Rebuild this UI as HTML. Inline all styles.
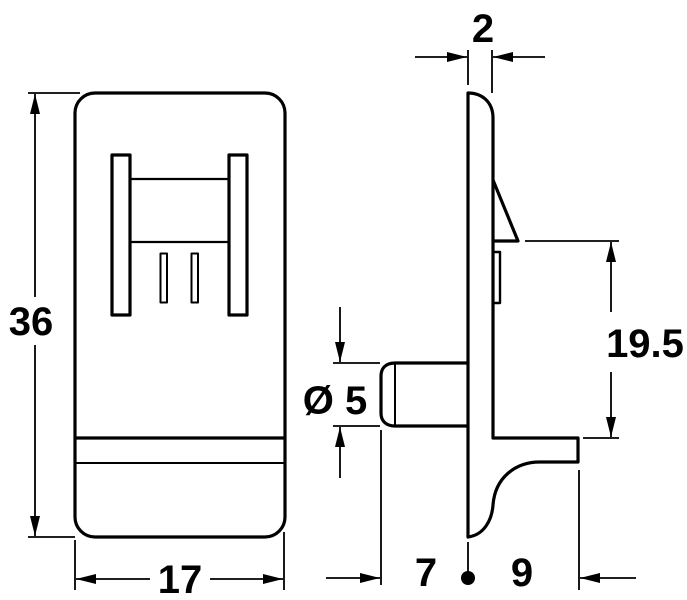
<!DOCTYPE html>
<html><head><meta charset="utf-8"><style>html,body{margin:0;padding:0;background:#fff}svg{display:block}</style></head>
<body>
<svg width="687" height="600" viewBox="0 0 687 600" xmlns="http://www.w3.org/2000/svg">
<defs>
<marker id="a" viewBox="0 0 20 10" refX="20" refY="5" markerWidth="20" markerHeight="10" markerUnits="userSpaceOnUse" orient="auto"><path d="M0,0 L20,5 L0,10 Z" fill="#000"/></marker>
</defs>
<g fill="none" stroke="#000" stroke-width="3.2" stroke-linejoin="round">
<rect x="75" y="93" width="210" height="444" rx="20"/>
<line x1="75" y1="438" x2="284" y2="438"/>
<line x1="75" y1="463" x2="284" y2="463" stroke-width="2"/>
<rect x="112" y="155" width="18" height="160"/>
<rect x="229" y="155" width="18" height="160"/>
<line x1="130" y1="179" x2="229" y2="179" stroke-width="2.2"/>
<line x1="130" y1="242" x2="229" y2="242" stroke-width="2.2"/>
<rect x="160.5" y="253.5" width="6.5" height="49" stroke-width="2"/>
<rect x="191.5" y="253.5" width="6.5" height="49" stroke-width="2"/>
<path d="M468,93 C482,93 493,102 493,118 L493,438 L578,438 L578,462 L540,462 C515,462 495,478 493,505 C492,520 484,535 468,537 Z"/>
<path d="M493,180 L518,241 L493,241"/>
<rect x="493" y="252" width="7" height="51" stroke-width="2.4"/>
<path d="M468,363 L395,363 C386,363 381,368 381,376 L381,413 C381,421 386,426 395,426 L468,426"/>
<line x1="395" y1="363" x2="395" y2="426" stroke-width="2"/>
</g>
<g stroke="#000" stroke-width="1.8" fill="none">
<line x1="28" y1="93" x2="80" y2="93"/>
<line x1="28" y1="537" x2="75" y2="537"/>
<line x1="35" y1="297" x2="35" y2="94" marker-end="url(#a)"/>
<line x1="35" y1="345" x2="35" y2="536" marker-end="url(#a)"/>
<line x1="75" y1="540" x2="75" y2="590"/>
<line x1="284" y1="532" x2="284" y2="590"/>
<line x1="150" y1="579" x2="76" y2="579" marker-end="url(#a)"/>
<line x1="210" y1="579" x2="283" y2="579" marker-end="url(#a)"/>
<line x1="468" y1="50" x2="468" y2="85"/>
<line x1="492" y1="50" x2="492" y2="93"/>
<line x1="415" y1="57" x2="467" y2="57" marker-end="url(#a)"/>
<line x1="545" y1="57" x2="493" y2="57" marker-end="url(#a)"/>
<line x1="525" y1="241" x2="619" y2="241"/>
<line x1="583" y1="438" x2="619" y2="438"/>
<line x1="611" y1="312" x2="611" y2="242" marker-end="url(#a)"/>
<line x1="611" y1="372" x2="611" y2="437" marker-end="url(#a)"/>
<line x1="333" y1="363" x2="380" y2="363"/>
<line x1="333" y1="426" x2="380" y2="426"/>
<line x1="340" y1="307" x2="340" y2="362" marker-end="url(#a)"/>
<line x1="340" y1="478" x2="340" y2="427" marker-end="url(#a)"/>
<line x1="381" y1="430" x2="381" y2="585"/>
<line x1="326" y1="578" x2="380" y2="578" marker-end="url(#a)"/>
<line x1="468" y1="542" x2="468" y2="575"/>
<line x1="579" y1="470" x2="579" y2="590"/>
<line x1="636" y1="578" x2="580" y2="578" marker-end="url(#a)"/>
</g>
<circle cx="468" cy="578" r="7" fill="#000"/>
<g font-family="Liberation Sans, sans-serif" font-weight="bold" font-size="40" fill="#000" text-anchor="middle">
<text x="31" y="335">36</text>
<text x="180" y="593">17</text>
<text x="483" y="42">2</text>
<text x="645" y="357">19.5</text>
<text x="335" y="414">Ø 5</text>
<text x="426" y="586">7</text>
<text x="522" y="586">9</text>
</g>
</svg>
</body></html>
